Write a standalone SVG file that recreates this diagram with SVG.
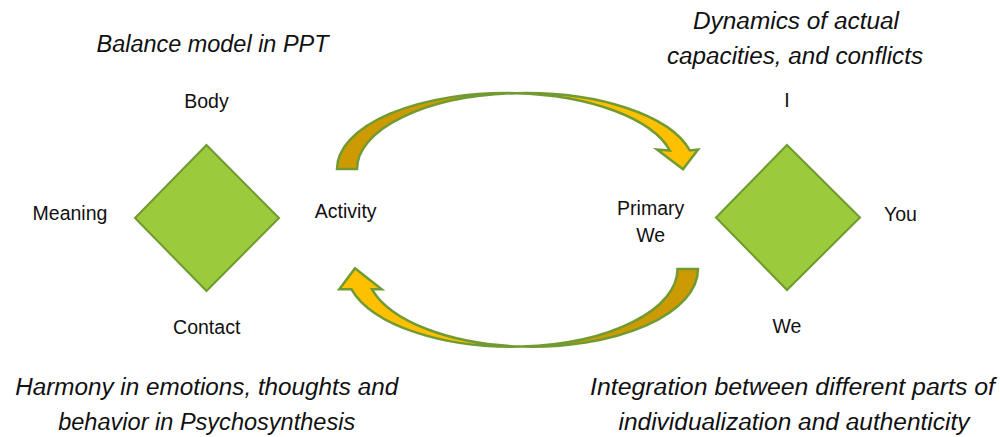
<svg xmlns="http://www.w3.org/2000/svg" width="1000" height="437" viewBox="0 0 1000 437">
  <style>
    .diamond { fill: #9BCB3C; stroke: #6F9A2E; stroke-width: 2; stroke-linejoin: miter; }
    .label { font-family: "Liberation Sans", Arial, sans-serif; font-size: 19.5px; fill: #111; text-anchor: middle; }
    .title { font-family: "Liberation Sans", Arial, sans-serif; font-size: 23.5px; font-style: italic; fill: #111; text-anchor: middle; }
    .arrow-back { fill: #CC9A02; stroke: #719B32; stroke-width: 2.5; stroke-linejoin: miter; }
    .arrow-front { fill: #FFC000; stroke: #719B32; stroke-width: 2.5; stroke-linejoin: miter; }
  </style>
  <rect width="1000" height="437" fill="#FFFFFF"/>

  <!-- Headings -->
  <g id="headings">
    <text class="title" x="212.5" y="52" textLength="232" lengthAdjust="spacingAndGlyphs">Balance model in PPT</text>
    <text class="title" x="796" y="28.5" textLength="206" lengthAdjust="spacingAndGlyphs">Dynamics of actual</text>
    <text class="title" x="795" y="63.5" textLength="256" lengthAdjust="spacingAndGlyphs">capacities, and conflicts</text>
    <text class="title" x="206.7" y="395" textLength="383" lengthAdjust="spacingAndGlyphs">Harmony in emotions, thoughts and</text>
    <text class="title" x="206.7" y="430" textLength="297" lengthAdjust="spacingAndGlyphs">behavior in Psychosynthesis</text>
    <text class="title" x="792.5" y="395" textLength="405" lengthAdjust="spacingAndGlyphs">Integration between different parts of</text>
    <text class="title" x="794" y="430" textLength="351" lengthAdjust="spacingAndGlyphs">individualization and authenticity</text>
  </g>

  <!-- Balance model: Body / Meaning / Activity / Contact -->
  <g id="balance-model">
    <polygon class="diamond" points="206.5,145 279,218 206.5,291 135,218"/>
    <text class="label" x="206.5" y="108.3">Body</text>
    <text class="label" x="70" y="220">Meaning</text>
    <text class="label" x="345.7" y="218.3">Activity</text>
    <text class="label" x="206.7" y="334.3">Contact</text>
  </g>

  <!-- Relational model: I / You / We / Primary We -->
  <g id="relational-model">
    <polygon class="diamond" points="787,145 860,217.5 787,290 716,217.5"/>
    <text class="label" x="787" y="106.7">I</text>
    <text class="label" x="900.5" y="221">You</text>
    <text class="label" x="787" y="333.3">We</text>
    <text class="label" x="650.7" y="215">Primary</text>
    <text class="label" x="650.7" y="242.3">We</text>
  </g>

  <!-- Curved arrows between the two models -->
  <g id="connectors">
    <!-- upper arrow, left to right -->
    <path class="arrow-back" d="M337,169 A169,76 0 0 1 516,93.13 A169,76 0 0 0 357,169 Z"/>
    <path class="arrow-front" d="M516,93.13 A169,76 0 0 1 689.9,150.5 L698,149.5 L683,169.3 L657,149.5 L669.9,150.5 A169,76 0 0 0 516,93.13 Z"/>
    <!-- lower arrow, right to left -->
    <path class="arrow-back" d="M698,269 A165.9,77.7 0 0 1 521.85,346.55 A165.9,77.7 0 0 0 677.5,269 Z"/>
    <path class="arrow-front" d="M521.85,346.55 A165.9,77.7 0 0 1 351.5,289.3 L339.3,289.3 L355,268.3 L381.7,289.3 L372,289.3 A165.9,77.7 0 0 0 521.85,346.55 Z"/>
  </g>
</svg>
